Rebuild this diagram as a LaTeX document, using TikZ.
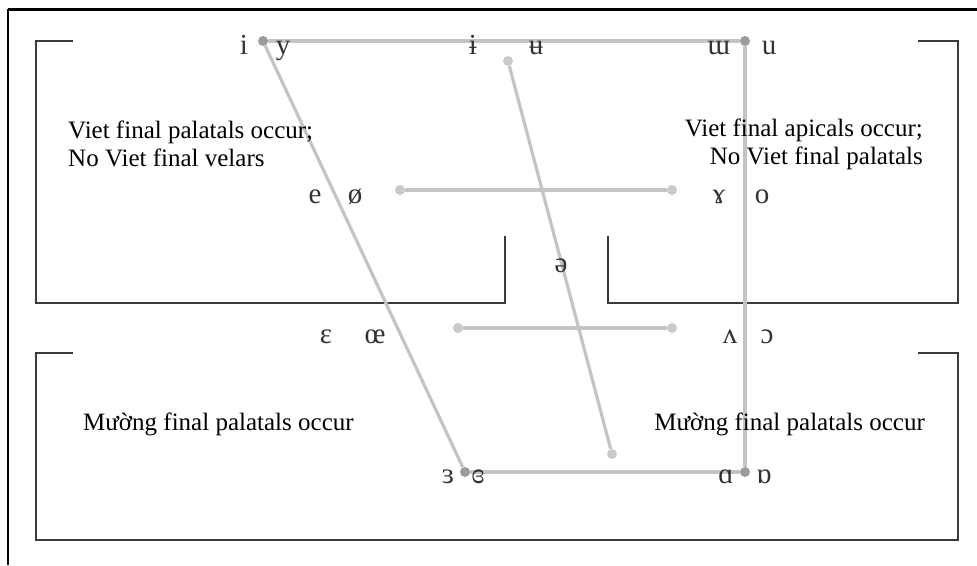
\documentclass[tikz,border=0pt]{standalone}
\usepackage{fontspec}
\setmainfont{Liberation Serif}
\usetikzlibrary{positioning}

\definecolor{boxgray}{HTML}{3A3A3A}
\definecolor{linkgray}{HTML}{C4C4C4}
\definecolor{dotgray}{HTML}{9C9C9C}
\definecolor{softdot}{HTML}{CACACA}
\definecolor{vowelgray}{HTML}{333333}

\begin{document}
\begin{tikzpicture}[
    x=1pt, y=-1pt,
    box/.style={draw=boxgray, line width=2.6pt},
    frame/.style={draw=black, line width=3pt},
    link/.style={draw=linkgray, line width=3.2pt},
    dot/.style={circle, fill=dotgray, inner sep=0pt, minimum size=10pt},
    softdot/.style={dot, fill=softdot},
    vowel/.style={font=\fontsize{29}{30}\selectfont, text=vowelgray, anchor=base, inner sep=0pt},
    note/.style={font=\fontsize{25}{28}\selectfont, inner sep=0pt}
]
    \useasboundingbox (0,0) rectangle (977,565);

    % outer frame
    \draw[frame] (8,9) -- (977,9);
    \draw[draw=black, line width=2pt] (8,9) -- (8,565);

    % regions
    \draw[box] (73,41) -- (36,41) -- (36,303) -- (505,303) -- (505,236);
    \draw[box] (918,41) -- (958,41) -- (958,303) -- (608,303) -- (608,236);
    \draw[box] (73,353) -- (36,353) -- (36,540) -- (958,540) -- (958,353) -- (918,353);

    % vowel points
    \node[dot] (hifront) at (263,41) {};
    \node[dot] (hiback) at (745,41) {};
    \node[softdot] (hicentral) at (508,61) {};
    \node[softdot] (locentral) at (612,454) {};
    \node[softdot] (midfront) at (400,190) {};
    \node[softdot] (midback) at (672,190) {};
    \node[softdot] (lowmidfront) at (458,328) {};
    \node[softdot] (lowmidback) at (672,328) {};
    \node[dot] (lofront) at (465,472) {};
    \node[dot] (loback) at (745,472) {};

    \draw[link] (hifront) -- (hiback);
    \draw[link] (hifront) -- (lofront);
    \draw[link] (hiback) -- (loback);
    \draw[link] (lofront) -- (loback);
    \draw[link] (hicentral) -- (locentral);
    \draw[link] (midfront) -- (midback);
    \draw[link] (lowmidfront) -- (lowmidback);

    % vowel symbols
    \node[vowel] (vi) at (244,54) {i};
    \node[vowel] (vy) at (283,54) {y};
    \node[vowel] (vbari) at (473,54) {ɨ};
    \node[vowel] (vbaru) at (536,54) {ʉ};
    \node[vowel] (vturnm) at (719,54) {ɯ};
    \node[vowel] (vu) at (769,54) {u};

    \node[vowel] (ve) at (315,203) {e};
    \node[vowel] (vslasho) at (355,203) {ø};
    \node[vowel] (vramshorn) at (719,203) {ɤ};
    \node[vowel] (vo) at (762,203) {o};

    \node[vowel] (vschwa) at (561,272) {ə};

    \node[vowel] (vepsilon) at (326,343) {ɛ};
    \node[vowel] (voe) at (375,343) {œ};
    \node[vowel] (vturnv) at (730,343) {ʌ};
    \node[vowel] (vopeno) at (767,343) {ɔ};

    \node[vowel] (vrevepsilon) at (448,483) {ɜ};
    \node[vowel] (vclosedeps) at (478,483) {ɞ};
    \node[vowel] (vscripta) at (726,483) {ɑ};
    \node[vowel] (vturnscripta) at (764,483) {ɒ};

    % region notes
    \node[note, anchor=west, align=left] (vietfront) at (68,144)
        {Viet final palatals occur;\\No Viet final velars};
    \node[note, anchor=east, align=right] (vietback) at (923,144)
        {Viet final apicals occur;\\No Viet final palatals};
    \node[note, anchor=west] (muongfront) at (83,424) {Mường final palatals occur};
    \node[note, anchor=east] (muongback) at (925,424) {Mường final palatals occur};
\end{tikzpicture}
\end{document}
